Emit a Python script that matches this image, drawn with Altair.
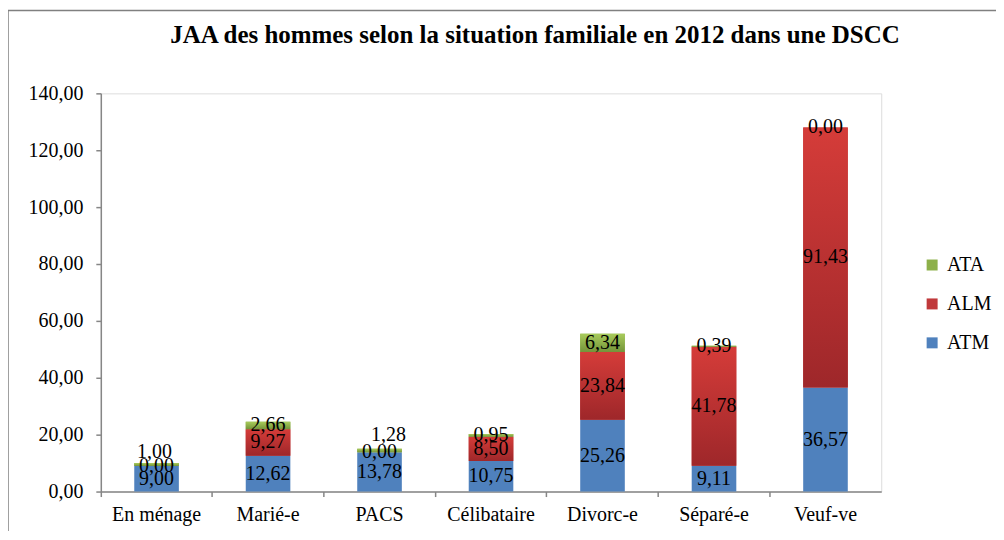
import altair as alt
import pandas as pd

categories = ["En ménage", "Marié-e", "PACS", "Célibataire", "Divorc-e", "Séparé-e", "Veuf-ve"]
atm = [9.00, 12.62, 13.78, 10.75, 25.26, 9.11, 36.57]
alm = [0.00, 9.27, 0.00, 8.50, 23.84, 41.78, 91.43]
ata = [1.00, 2.66, 1.28, 0.95, 6.34, 0.39, 0.00]
series_names = ["ATM", "ALM", "ATA"]
legend_order = ["ATA", "ALM", "ATM"]
legend_colors = ["#8DB04A", "#C0393B", "#4F81BD"]
y_ticks = [0, 20, 40, 60, 80, 100, 120, 140]

rows = []
for i, c in enumerate(categories):
    for k, (s, vals) in enumerate(zip(series_names, [atm, alm, ata])):
        rows.append({"cat": c, "series": s, "value": vals[i], "order": k})
df = pd.DataFrame(rows)

FONT = "'Liberation Serif', 'Times New Roman', serif"
AXC = "#868686"

base = alt.Chart(df).transform_stack(
    stack="value", as_=["y0", "y1"], groupby=["cat"],
    sort=[alt.SortField("order", order="ascending")]
).transform_calculate(
    ymid="(datum.y0 + datum.y1) / 2",
    label="replace(format(datum.value, '.2f'), '.', ',')"
)

x_enc = alt.X("cat:N", sort=categories,
              scale=alt.Scale(paddingInner=0, paddingOuter=0),
              axis=alt.Axis(title=None, bandPosition=0, labelAngle=0, labelFontSize=20,
                            labelFont=FONT, labelColor="black", domainColor=AXC,
                            tickColor=AXC, tickSize=5, labelPadding=8, grid=False,
                            labelLimit=0, domainWidth=1.5, tickWidth=1.5))
y_scale = alt.Scale(domain=[0, 140], nice=False)
y_axis = alt.Axis(title=None, values=y_ticks,
                  labelExpr="replace(format(datum.value, '.2f'), '.', ',')",
                  labelFontSize=20, labelFont=FONT, labelColor="black",
                  domainColor=AXC, tickColor=AXC, tickSize=5, labelPadding=13,
                  grid=False, domainWidth=1.5, tickWidth=1.5)

BW = alt.RelativeBandSize(band=0.4)

flat = base.mark_bar(width=BW).encode(
    x=x_enc,
    y=alt.Y("y0:Q", scale=y_scale, axis=y_axis),
    y2="y1:Q",
    color=alt.Color("series:N", scale=alt.Scale(domain=legend_order, range=legend_colors),
                    legend=alt.Legend(title=None, orient="none", legendX=823, legendY=162,
                                      symbolType="square", symbolSize=121,
                                      symbolStrokeWidth=0, labelFont=FONT,
                                      labelFontSize=20, labelColor="black",
                                      rowPadding=19, labelOffset=5, padding=0))
)

red_grad = {"gradient": "linear", "x1": 0, "x2": 0, "y1": 0, "y2": 1,
            "stops": [{"offset": 0, "color": "#D53C39"}, {"offset": 1, "color": "#9E272A"}]}
green_grad = {"gradient": "linear", "x1": 0, "x2": 0, "y1": 0, "y2": 1,
              "stops": [{"offset": 0, "color": "#A8CB5B"}, {"offset": 1, "color": "#74943A"}]}

red = base.transform_filter(alt.datum.series == "ALM").mark_bar(width=BW, fill=red_grad).encode(
    x=x_enc, y=alt.Y("y0:Q", scale=y_scale, axis=y_axis), y2="y1:Q")
green = base.transform_filter(alt.datum.series == "ATA").mark_bar(width=BW, fill=green_grad).encode(
    x=x_enc, y=alt.Y("y0:Q", scale=y_scale, axis=y_axis), y2="y1:Q")

special1 = (alt.datum.cat == "En ménage") & (alt.datum.series == "ATA")
special2 = (alt.datum.cat == "PACS") & (alt.datum.series == "ATA")

txt_kw = dict(font=FONT, fontSize=20, baseline="middle", align="center", color="black")
labels = base.transform_filter(~(special1 | special2)).mark_text(**txt_kw).encode(
    x=x_enc, y=alt.Y("ymid:Q", scale=y_scale, axis=y_axis), text="label:N")
lab1 = base.transform_filter(special1).mark_text(dy=-13, dx=-2, **txt_kw).encode(
    x=x_enc, y=alt.Y("ymid:Q", scale=y_scale, axis=y_axis), text="label:N")
lab2 = base.transform_filter(special2).mark_text(dy=-16, dx=9, **txt_kw).encode(
    x=x_enc, y=alt.Y("ymid:Q", scale=y_scale, axis=y_axis), text="label:N")

frame = alt.Chart(alt.Data(values=[{"f": 1}])).mark_rect(
    filled=False, stroke="#808080", strokeWidth=1.5
).encode(x=alt.value(-93), x2=alt.value(1200), y=alt.value(-83), y2=alt.value(700))

chart = alt.layer(frame, flat, red, green, labels, lab1, lab2).properties(
    width=782, height=399,
    padding={"left": 93, "top": 85, "right": 115, "bottom": 39},
    autosize=alt.AutoSizeParams(type="none"),
    title=alt.TitleParams(
        "JAA des hommes selon la situation familiale en 2012 dans une DSCC",
        font=FONT, fontSize=25, fontWeight="bold", color="black",
        anchor="middle", dx=44, offset=0, dy=38)
).configure_view(strokeWidth=0).configure(background="white")

chart.save("out.html", embed_options={"renderer": "svg", "actions": False})
